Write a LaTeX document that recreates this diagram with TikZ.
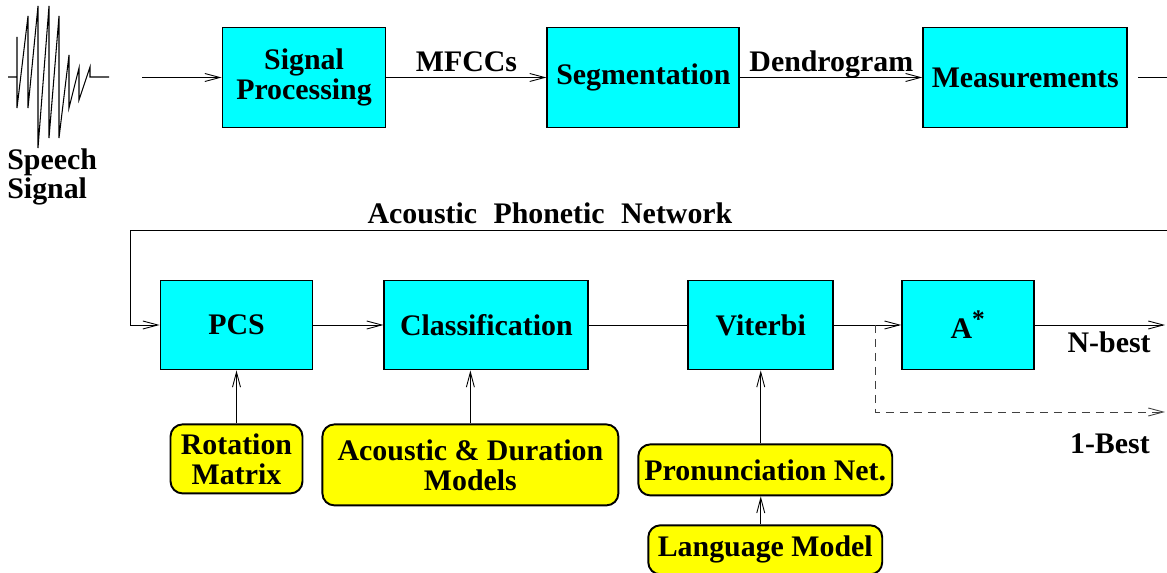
\documentclass[tikz,border=0pt]{standalone}
\usepackage{fontspec}
\newfontfamily\diagfont{Liberation Serif}
\usepackage{tikz}
\usetikzlibrary{arrows.meta, positioning, calc}
\definecolor{boxcyan}{RGB}{0,255,255}
\definecolor{boxyellow}{RGB}{255,255,0}
\tikzset{
	procbox/.style={draw, line width=1.1pt, fill=boxcyan, align=center, inner sep=1pt},
	databox/.style={draw, line width=1.1pt, fill=boxyellow, rounded corners=0.24cm, align=center, inner sep=1pt},
	arr/.style={->, line width=0.5pt},
	lbl/.style={text depth=0pt}
}

\begin{document}
\begin{tikzpicture}[x=0.02cm, y=-0.02cm,
	font=\diagfont\bfseries\fontsize{17}{17}\selectfont,
	>={Straight Barb[length=0.3cm, width=0.16cm]}]
	\useasboundingbox (0,0) rectangle (1167,573);
	% speech waveform
	\draw[line width=0.6pt] (8,77) -- (17,77) -- (17,37) -- (17,108) -- (28,16) -- (28,108)
	-- (38,6) -- (38,148) -- (49,6) -- (49,138) -- (59,16) -- (59,138) -- (69,55) -- (69,108)
	-- (79,68) -- (79,100) -- (90,67) -- (90,77) -- (109,77);
	\node[anchor=north west, align=left, inner sep=0pt] (speech) at (7,148) {Speech\\Signal};
	\coordinate (sigout) at (142,77.5);
	% top row
	\node[procbox,
	minimum width=3.26cm,
	minimum height=2cm] (sigproc) at (304,77.5) {Signal\\Processing};
	\node[procbox,
	minimum width=3.84cm,
	minimum height=2cm,
	right=3.2cm of sigproc] (segment) {Segmentation};
	\node[procbox,
	minimum width=4.08cm,
	minimum height=2cm,
	right=3.64cm of segment] (measure) {Measurements};
	\coordinate (measout) at (1167,77.5);
	% bottom row
	\node[procbox,
	minimum width=3.04cm,
	minimum height=1.78cm] (pcs) at (236.5,325) {PCS};
	\node[procbox,
	minimum width=4.08cm,
	minimum height=1.78cm,
	right=1.4cm of pcs] (classif) {Classification};
	\node[procbox,
	minimum width=2.9cm,
	minimum height=1.78cm,
	right=1.96cm of classif] (viterbi) {Viterbi};
	\node[procbox,
	minimum width=2.64cm,
	minimum height=1.78cm,
	right=1.34cm of viterbi] (astar) {A\textsuperscript{\Large *}};
	% model boxes
	\node[databox,
	minimum width=2.64cm,
	minimum height=1.38cm,
	below=1.06cm of pcs] (rotmat) {Rotation\\Matrix};
	\node[databox,
	minimum width=5.92cm,
	minimum height=1.62cm,
	below=1.06cm of classif, xshift=-0.32cm] (acmodels) {Acoustic \& Duration\\Models};
	\node[databox,
	minimum width=5.08cm,
	minimum height=1.02cm,
	below=1.46cm of viterbi, xshift=0.09cm] (pronnet) {Pronunciation Net.};
	\node[databox,
	minimum width=4.68cm,
	minimum height=0.98cm,
	below=0.56cm of pronnet] (langmodel) {Language Model};
	% feedback and outputs
	\coordinate (netin) at (1167,230);
	\coordinate (netcorner) at (130,230);
	\coordinate (split) at (875,325);
	\coordinate (nbest) at (1165,325);
	\coordinate (onebest) at (1165,412);
	% Arrows
	\draw[arr] (sigout) -- (sigproc);
	\draw[arr] (sigproc) -- node[above, lbl] {MFCCs} (segment);
	\draw[arr] (segment) -- node[above, lbl] {Dendrogram} (measure);
	\draw[line width=0.5pt] ([xshift=0.2cm]measure.east) -- (measout);
	\draw[arr] (netin) -- node[above, lbl, pos=0.595] {Acoustic\hspace{0.55em}Phonetic\hspace{0.55em}Network} (netcorner) |- (pcs.west);
	\draw[arr] (pcs) -- (classif);
	\draw[line width=0.5pt] (classif) -- (viterbi);
	\draw[arr] (viterbi) -- (astar);
	\draw[arr] (astar) -- node[below, pos=0.57] {N-best} (nbest);
	\draw[arr, dashed, dash pattern=on 0.16cm off 0.12cm, black!75] (split) |- node[below=9pt, pos=0.905, black] {1-Best} (onebest);
	\draw[arr] (rotmat) -- (pcs);
	\draw[arr] (acmodels.north) -- (acmodels.north |- classif.south);
	\draw[arr] (pronnet.north -| viterbi.south) -- (viterbi.south);
	\draw[arr] (langmodel.north -| viterbi.south) -- (pronnet.south -| viterbi.south);
\end{tikzpicture}
\end{document}
